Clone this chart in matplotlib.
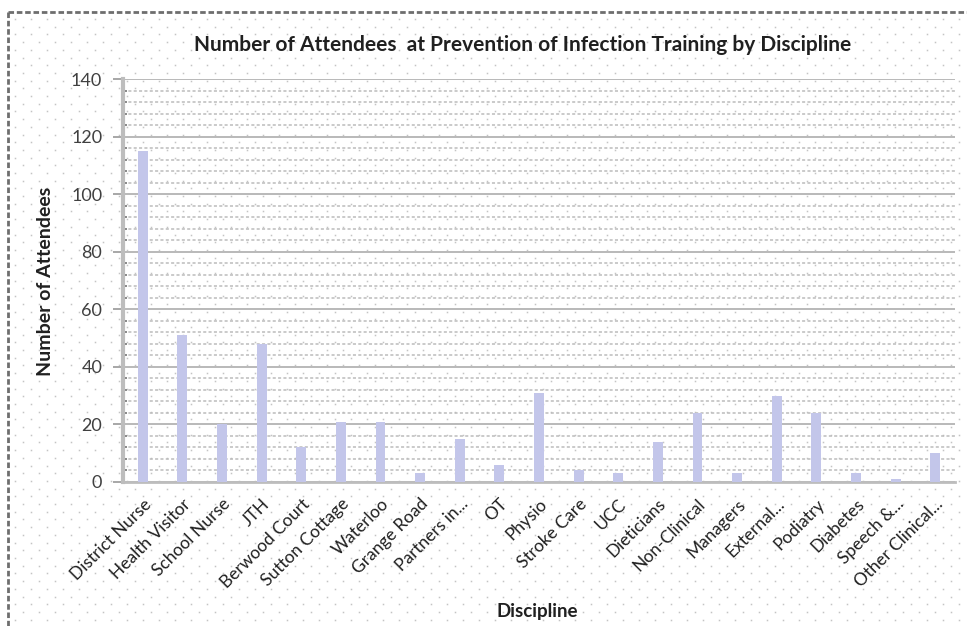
import numpy as np
import matplotlib
matplotlib.use("Agg")
import matplotlib.pyplot as plt
from matplotlib.lines import Line2D
from matplotlib.ticker import MultipleLocator

# Attendance per discipline
disciplines = ["District Nurse", "Health Visitor", "School Nurse", "JTH", "Berwood Court",
               "Sutton Cottage", "Waterloo", "Grange Road", "Partners in...", "OT",
               "Physio", "Stroke Care", "UCC", "Dieticians", "Non-Clinical",
               "Managers", "External...", "Podiatry", "Diabetes", "Speech &...",
               "Other Clinical..."]
attendees = [115, 51, 20, 48, 12, 21, 21, 3, 15, 6, 31, 4, 3, 14, 24, 3, 30, 24, 3, 1, 10]

title_text = "Number of Attendees  at Prevention of Infection Training by Discipline"
y_title = "Number of Attendees"
x_title = "Discipline"

plt.rcParams['font.family'] = ['Lato', 'DejaVu Sans']

W, H = 967, 626
fig = plt.figure(figsize=(W / 100, H / 100), dpi=100)
fig.patch.set_facecolor("white")

# dotted background texture over the whole chart area
xs, ys = [], []
row = 0
y = 19.0
while y < H:
    off = 0 if row % 2 == 0 else 8
    x = 15.0 + off
    while x < W:
        xs.append(x / W)
        ys.append(1 - y / H)
        x += 16
    y += 7.7
    row += 1
fig.add_artist(Line2D(xs, ys, linestyle="none", marker="s", markersize=1.1,
                      markerfacecolor="#c4c4c4", markeredgewidth=0,
                      transform=fig.transFigure, zorder=0))

# dashed chart frame (top and left edges)
fig.add_artist(Line2D([8 / W, 1.0], [1 - 12 / H, 1 - 12 / H], color="#6e6e6e",
                      lw=2, linestyle=(0, (2, 1)), transform=fig.transFigure, zorder=1))
fig.add_artist(Line2D([8 / W, 8 / W], [1 - 12 / H, 0.0], color="#6e6e6e",
                      lw=2, linestyle=(0, (2, 1)), transform=fig.transFigure, zorder=1))

left, right, top, bottom = 123, 955, 79, 482
ax = fig.add_axes([left / W, 1 - bottom / H, (right - left) / W, (bottom - top) / H])
ax.set_facecolor("none")

idx = np.arange(len(disciplines))
ax.bar(idx, attendees, width=0.25, color="#c3c6ea", edgecolor="none", zorder=3)

ax.set_xlim(-0.5, len(disciplines) - 0.5)
ax.set_ylim(0, 140)
ax.yaxis.set_major_locator(MultipleLocator(20))
ax.yaxis.set_minor_locator(MultipleLocator(4))
ax.grid(axis="y", which="major", color="#b9b9b9", lw=1.4, zorder=1)
ax.grid(axis="y", which="minor", color="#bcbcbc", lw=1.1, linestyle=(0, (2, 1.5)), zorder=1)
ax.set_axisbelow(True)

for s in ["top", "right"]:
    ax.spines[s].set_visible(False)
ax.spines["left"].set_color("#bdbdbd")
ax.spines["left"].set_linewidth(3)
ax.spines["bottom"].set_color("#bdbdbd")
ax.spines["bottom"].set_linewidth(2)

ax.tick_params(axis="y", which="major", direction="out", length=7, width=1.3,
               color="#a0a0a0", labelsize=13, labelcolor="#404040", pad=8)
ax.tick_params(axis="y", which="minor", direction="in", length=3, width=1.3, color="#808080")
ax.tick_params(axis="x", length=0, pad=10)

ax.set_xticks(idx)
ax.set_xticklabels(disciplines, rotation=45, ha="right", rotation_mode="anchor",
                   fontsize=12.5, color="#202020")

fig.text(523 / W, 1 - 45 / H, title_text, ha="center", va="center",
         fontsize=15, fontweight="bold", color="#202020")
fig.text(46 / W, 1 - 281 / H, y_title, ha="center", va="center", rotation=90,
         fontsize=14, fontweight="bold", color="#202020")
fig.text(537 / W, 1 - 611 / H, x_title, ha="center", va="center",
         fontsize=13.5, fontweight="bold", color="#202020")

fig.savefig("out.png", dpi=100)
